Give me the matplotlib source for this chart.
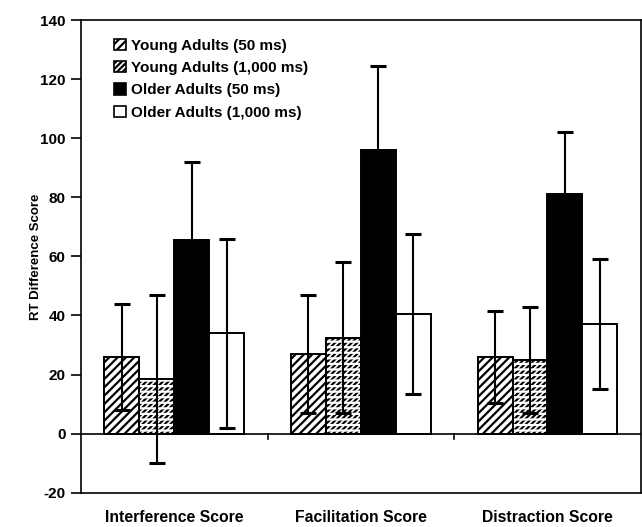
import matplotlib
matplotlib.use("Agg")
import matplotlib.pyplot as plt
from matplotlib.patches import Patch
import numpy as np

categories = ["Interference Score", "Facilitation Score", "Distraction Score"]
series = ["Young Adults (50 ms)", "Young Adults (1,000 ms)", "Older Adults (50 ms)", "Older Adults (1,000 ms)"]
young_50 = [26, 27, 26]
young_50_err = [18, 20, 15.5]
young_1000 = [18.5, 32.5, 25]
young_1000_err = [28.5, 25.5, 18]
older_50 = [65.5, 96, 81]
older_50_err = [26.5, 28.5, 21]
older_1000 = [34, 40.5, 37]
older_1000_err = [32, 27, 22]
yticks = [-20, 0, 20, 40, 60, 80, 100, 120, 140]

plt.rcParams['font.family'] = ['Liberation Sans', 'DejaVu Sans']
plt.rcParams['hatch.linewidth'] = 1.6
fig = plt.figure(figsize=(6.42, 5.27), dpi=100)
ax = fig.add_axes([0.126, 0.065, 0.872, 0.897])

x = np.arange(1, len(categories) + 1)
w = 0.187
offsets = [-1.5 * w, -0.5 * w, 0.5 * w, 1.5 * w]
vals = [young_50, young_1000, older_50, older_1000]
errs = [young_50_err, young_1000_err, older_50_err, older_1000_err]
faces = ['white', 'white', 'black', 'white']
hatches = ['////', '//////', None, None]

for i in range(4):
    ax.bar(x + offsets[i], vals[i], w, color=faces[i], edgecolor='black',
           linewidth=1.4, hatch=hatches[i], zorder=2)
    if i == 1:
        # white horizontal gaps to create rows of short slashes
        ax.bar(x + offsets[i], vals[i], w, fill=False, edgecolor='white',
               linewidth=0, hatch='---', zorder=2.5)
        ax.bar(x + offsets[i], vals[i], w, fill=False, edgecolor='black',
               linewidth=1.4, zorder=2.6)
    ax.errorbar(x + offsets[i], vals[i], yerr=errs[i], fmt='none', ecolor='black',
                elinewidth=1.5, capsize=6, capthick=2.2, zorder=3)

ax.axhline(0, color='black', linewidth=1.2, zorder=4)
for b in [1.5, 2.5]:
    ax.plot([b, b], [0, -1.8], color='black', linewidth=1.2, zorder=4)

ax.set_xlim(0.5, 3.5)
ax.set_ylim(-20, 140)
ax.set_yticks(yticks)
ax.set_yticklabels([str(t) for t in yticks], fontsize=11, fontweight='bold')
ax.set_xticks([])
for sp in ax.spines.values():
    sp.set_linewidth(1.2)
ax.tick_params(axis='y', direction='out', length=7, width=1.2, pad=4)

for xi, c in zip(x, categories):
    ax.text(xi, -26, c, ha='center', va='top', fontsize=11.3, fontweight='bold')

ax.set_ylabel("RT Difference Score", fontsize=9.5, fontweight='bold')
ax.yaxis.set_label_coords(-0.07, 0.5)

handles = [Patch(facecolor=faces[i], edgecolor='black', hatch=hatches[i], linewidth=1.2)
           for i in range(4)]
leg = ax.legend(handles, series, loc='upper left', bbox_to_anchor=(0.035, 0.99),
                frameon=False, handlelength=0.75, handleheight=0.75,
                handletextpad=0.35, labelspacing=0.55,
                prop={'weight': 'bold', 'size': 11})

fig.savefig("out.png", dpi=100)
